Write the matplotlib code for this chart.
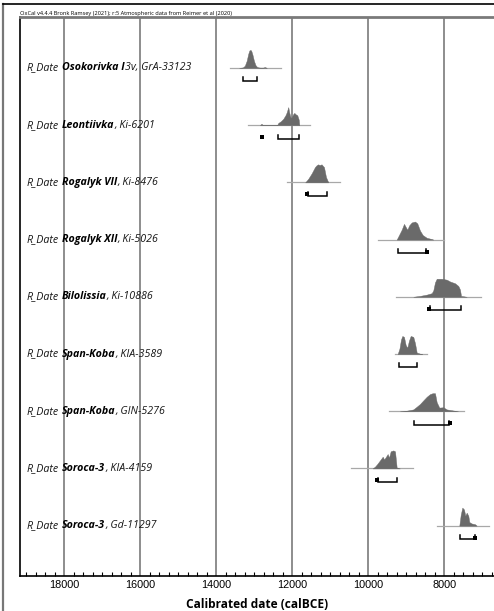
import matplotlib
matplotlib.use("Agg")
import matplotlib.pyplot as plt
from matplotlib.lines import Line2D
from matplotlib.ticker import MultipleLocator
import matplotlib.transforms as mtransforms

# sample labels: site name (bold) and lab code
sites = ["Osokorivka I", "Leontiivka", "Rogalyk VII", "Rogalyk XII", "Bilolissia",
         "Span-Koba", "Span-Koba", "Soroca-3", "Soroca-3"]
codes = ["3v, GrA-33123", ", Ki-6201", ", Ki-8476", ", Ki-5026", ", Ki-10886",
         ", KIA-3589", ", GIN-5276", ", KIA-4159", ", Gd-11297"]

# extent of the thin line under each posterior (calBCE)
spans = [(13636, 12298), (13175, 11535), (12132, 10745), (9753, 8000), (9271, 7034),
         (9297, 8463), (9455, 7474), (10464, 8832), (8200, 6816)]

# probability shapes: years (calBCE) and relative heights
dist_years = [
    [13400, 13300, 13250, 13200, 13160, 13130, 13100, 13080, 13050, 13010, 12970, 12930, 12890, 12840, 12770, 12720, 12670],
    [12850, 12810, 12780, 12400, 12370, 12300, 12238, 12180, 12149, 12120, 12106, 12080, 12043, 12010, 11980, 11948, 11910, 11869, 11830, 11816],
    [11660, 11640, 11580, 11490, 11403, 11360, 11320, 11280, 11230, 11190, 11166, 11114, 11053],
    [9253, 9192, 9121, 9061, 9016, 8974, 8921, 8858, 8771, 8711, 8640, 8568, 8463, 8332, 8290],
    [8816, 8640, 8463, 8332, 8290, 8245, 8200, 8070, 7937, 7850, 7718, 7631, 7587, 7560, 7411],
    [9227, 9180, 9140, 9105, 9061, 9016, 8974, 8929, 8885, 8816, 8771, 8726, 8640, 8580],
    [9166, 8990, 8816, 8726, 8640, 8553, 8463, 8376, 8306, 8245, 8200, 8132, 8026, 7937, 7763, 7640],
    [9885, 9824, 9763, 9692, 9621, 9583, 9534, 9490, 9455, 9411, 9342, 9297, 9253, 9170],
    [7605, 7568, 7526, 7482, 7447, 7411, 7368, 7342, 7279, 7192, 7148],
]
dist_heights = [
    [0, 0.03, 0.12, 0.4, 0.78, 0.97, 1.0, 0.95, 0.75, 0.4, 0.16, 0.06, 0.03, 0.02, 0.02, 0.05, 0],
    [0, 0.08, 0, 0, 0.12, 0.22, 0.35, 0.55, 0.7, 0.9, 1.0, 0.7, 0.4, 0.45, 0.6, 0.68, 0.6, 0.55, 0.3, 0],
    [0, 0.05, 0.2, 0.5, 0.85, 0.95, 1.0, 0.96, 1.0, 0.9, 0.85, 0.3, 0],
    [0, 0.25, 0.55, 0.87, 0.7, 0.55, 0.8, 0.95, 1.0, 0.9, 0.5, 0.25, 0.1, 0.03, 0],
    [0, 0.05, 0.12, 0.2, 0.35, 0.8, 1.0, 1.0, 0.95, 0.85, 0.75, 0.6, 0.4, 0.05, 0],
    [0, 0.3, 0.8, 1.0, 0.95, 0.5, 0.35, 0.75, 1.0, 0.95, 0.6, 0.08, 0.02, 0],
    [0, 0.03, 0.1, 0.25, 0.4, 0.6, 0.8, 0.95, 1.0, 1.0, 0.5, 0.2, 0.22, 0.1, 0.04, 0],
    [0, 0.1, 0.25, 0.45, 0.65, 0.5, 0.65, 0.8, 0.6, 0.95, 1.0, 0.95, 0.05, 0],
    [0, 0.6, 1.0, 0.9, 0.55, 0.72, 0.55, 0.2, 0.12, 0.08, 0],
]

# 95.4% ranges under each posterior
ranges = [
    [(13306, 12938)],
    [(12825, 12790), (12385, 11816)],
    [(11625, 11595), (11585, 11100)],
    [(9211, 8480), (8475, 8445)],
    [(8410, 8380), (8375, 7569)],
    [(9192, 8726)],
    [(8790, 7870), (7865, 7835)],
    [(9780, 9750), (9745, 9253)],
    [(7587, 7205), (7200, 7160)],
]

fill_col = "#6a6a6a"
base_col = "#a8a8a8"
peak_h = 0.315

fig = plt.figure(figsize=(4.94, 6.11), dpi=100)
ax = fig.add_axes([20 / 494, 35 / 611, 474 / 494, 559 / 611])
ax.set_xlim(19166, 6692)
ax.set_ylim(8.88, -0.89)

for i in range(len(sites)):
    ax.plot(spans[i], [i, i], color=base_col, lw=0.9, zorder=2)
    tops = [i - peak_h * h for h in dist_heights[i]]
    ax.fill_between(dist_years[i], i, tops, color=fill_col, lw=0.3, zorder=3)
    yb = i + 0.235
    for a, b in ranges[i]:
        if a - b < 60:
            ax.plot([(a + b) / 2], [yb - 0.025], marker="s", ms=3.2, mew=0, color="black", zorder=4)
        else:
            ax.plot([a, a, b, b], [yb - 0.07, yb, yb, yb - 0.07], color="black", lw=1.1,
                    solid_joinstyle="miter", zorder=4)

# labels: "R_Date" + bold site + code, laid out on a shared baseline
trans = mtransforms.blended_transform_factory(ax.transAxes, ax.transData)
renderer = fig.canvas.get_renderer()
fs = 7.7
for i in range(len(sites)):
    pieces = [("R_Date", "normal", 2.8), (sites[i], "bold", 0), (codes[i], "normal", 0)]
    dx = 0.0
    for s, w, gap in pieces:
        t = ax.text(0.0148, i + 0.045, s, fontsize=fs, family="Open Sans", style="italic",
                    weight=w, va="baseline", ha="left", color="black" if w == "bold" else "#151515",
                    transform=trans + mtransforms.ScaledTranslation(dx / fig.dpi, 0, fig.dpi_scale_trans))
        dx += t.get_window_extent(renderer).width + gap

ax.xaxis.set_minor_locator(MultipleLocator(250))
ax.set_xticks([18000, 16000, 14000, 12000, 10000, 8000])
ax.set_xticklabels(["18000", "16000", "14000", "12000", "10000", "8000"],
                   fontsize=7.8, family="Liberation Sans")
ax.tick_params(axis="x", which="major", direction="in", length=0, pad=3)
ax.tick_params(axis="x", which="minor", direction="in", length=3, width=0.8)
ax.set_yticks([])
ax.grid(axis="x", which="major", color="#7a7a7a", lw=1.2, zorder=1)

ax.spines["right"].set_visible(False)
ax.spines["top"].set_color("#7a7a7a")
ax.spines["top"].set_linewidth(2)
ax.spines["left"].set_linewidth(1.2)
ax.spines["bottom"].set_linewidth(1.2)

ax.set_xlabel("Calibrated date (calBCE)", fontsize=8.6, family="Open Sans", weight="bold",
              labelpad=6)

fig.text(20 / 494, 1 - 15.5 / 611,
         "OxCal v4.4.4 Bronk Ramsey (2021); r:5 Atmospheric data from Reimer et al (2020)",
         fontsize=4.1, family="Open Sans", va="bottom", ha="left")

# page frame
fig.add_artist(Line2D([3 / 494, 3 / 494], [0, 1 - 4 / 611], transform=fig.transFigure,
                      color="#777777", lw=1.6))
fig.add_artist(Line2D([3 / 494, 1], [1 - 4 / 611, 1 - 4 / 611], transform=fig.transFigure,
                      color="black", lw=1.2))

fig.savefig("out.png", dpi=100)
